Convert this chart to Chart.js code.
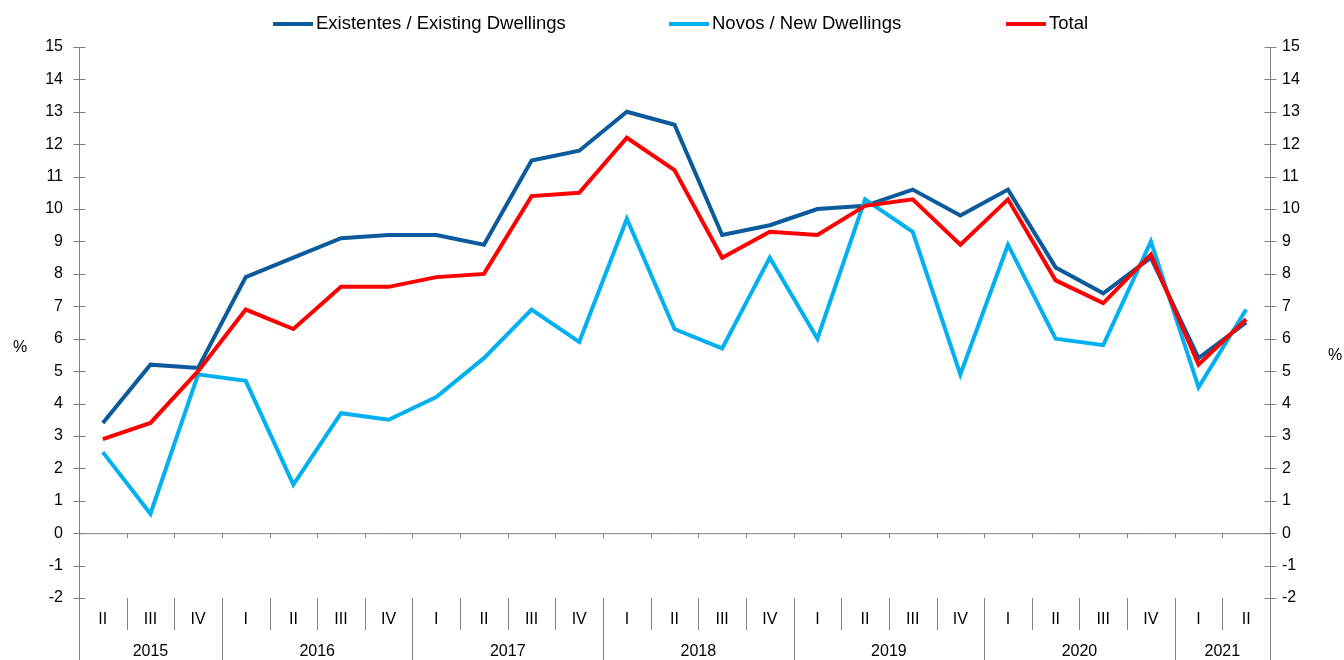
<!DOCTYPE html>
<html>
<head>
<meta charset="utf-8">
<script src="https://cdn.jsdelivr.net/npm/chart.js@4"></script>
<style>
  html, body { margin: 0; padding: 0; background: #fff; }
  #wrap { width: 1344px; height: 660px; }
</style>
</head>
<body>
<div id="wrap"><canvas id="chart" width="1344" height="660"></canvas></div>
<script>
const quarters = ['II','III','IV','I','II','III','IV','I','II','III','IV','I','II','III','IV','I','II','III','IV','I','II','III','IV','I','II'];
const years = ['2015','2015','2015','2016','2016','2016','2016','2017','2017','2017','2017','2018','2018','2018','2018',
               '2019','2019','2019','2019','2020','2020','2020','2020','2021','2021'];

const existing = [3.4, 5.2, 5.1, 7.9, 8.5, 9.1, 9.2, 9.2, 8.9, 11.5, 11.8, 13.0, 12.6, 9.2, 9.5,
                  10.0, 10.1, 10.6, 9.8, 10.6, 8.2, 7.4, 8.5, 5.4, 6.5];
const newDw = [2.5, 0.6, 4.9, 4.7, 1.5, 3.7, 3.5, 4.2, 5.4, 6.9, 5.9, 9.7, 6.3, 5.7, 8.5,
               6.0, 10.3, 9.3, 4.9, 8.9, 6.0, 5.8, 9.0, 4.5, 6.9];
const total = [2.9, 3.4, 5.0, 6.9, 6.3, 7.6, 7.6, 7.9, 8.0, 10.4, 10.5, 12.2, 11.2, 8.5, 9.3,
               9.2, 10.1, 10.3, 8.9, 10.3, 7.8, 7.1, 8.6, 5.2, 6.6];

const seriesNames = ['Existentes / Existing Dwellings', 'Novos / New Dwellings', 'Total'];
const seriesColors = ['#0A5A9C', '#00B0F0', '#FF0000'];

const FONT = "'Liberation Sans', Arial, sans-serif";
const AXIS = '#808080';

// axes, separators, year labels, % titles and the legend
const decorations = {
  id: 'decorations',
  afterDraw(chart) {
    const ctx = chart.ctx;
    const area = chart.chartArea;
    const x = chart.scales.x;
    const yl = chart.scales.y;
    const H = chart.height;
    const step = x.getPixelForValue(1) - x.getPixelForValue(0);
    const y0 = yl.getPixelForValue(0);

    ctx.save();
    ctx.strokeStyle = AXIS;
    ctx.lineWidth = 1;

    // zero line with ticks at category boundaries
    ctx.beginPath();
    ctx.moveTo(area.left, y0 + 0.5);
    ctx.lineTo(area.right, y0 + 0.5);
    for (let i = 1; i < quarters.length; i++) {
      const bx = Math.round(x.getPixelForValue(i) - step / 2) + 0.5;
      ctx.moveTo(bx, y0);
      ctx.lineTo(bx, y0 + 5);
    }
    ctx.stroke();

    // vertical axes down to the bottom of the label band
    ctx.beginPath();
    [area.left, area.right].forEach(ax => {
      const px = Math.round(ax) + 0.5;
      ctx.moveTo(px, area.top);
      ctx.lineTo(px, H);
      for (let v = -2; v <= 15; v++) {
        const py = Math.round(yl.getPixelForValue(v)) + 0.5;
        ctx.moveTo(px - 6, py);
        ctx.lineTo(px + 6, py);
      }
    });
    ctx.stroke();

    // separators in the label band
    ctx.beginPath();
    for (let i = 1; i < quarters.length; i++) {
      const bx = Math.round(x.getPixelForValue(i) - step / 2) + 0.5;
      const newYear = years[i] !== years[i - 1];
      ctx.moveTo(bx, area.bottom);
      ctx.lineTo(bx, newYear ? H : area.bottom + 32);
    }
    ctx.stroke();

    // year labels
    ctx.fillStyle = '#000';
    ctx.font = '16px ' + FONT;
    ctx.textAlign = 'center';
    ctx.textBaseline = 'middle';
    let start = 0;
    for (let i = 1; i <= years.length; i++) {
      if (i === years.length || years[i] !== years[start]) {
        const cx = (x.getPixelForValue(start) + x.getPixelForValue(i - 1)) / 2;
        ctx.fillText(years[start], cx, 652);
        start = i;
      }
    }

    // % titles
    ctx.fillText('%', 20, 348);
    ctx.fillText('%', 1335, 356);

    // legend
    const legendX = [273, 669, 1006];
    ctx.textAlign = 'left';
    ctx.font = '18.5px ' + FONT;
    seriesNames.forEach((name, i) => {
      ctx.strokeStyle = seriesColors[i];
      ctx.lineWidth = 4;
      ctx.beginPath();
      ctx.moveTo(legendX[i], 24);
      ctx.lineTo(legendX[i] + 40, 24);
      ctx.stroke();
      ctx.fillText(name, legendX[i] + 43, 24);
    });
    ctx.restore();
  }
};

const tickFont = { family: FONT, size: 16 };

new Chart(document.getElementById('chart'), {
  type: 'line',
  data: {
    labels: quarters,
    datasets: [
      { label: seriesNames[0], data: existing, borderColor: seriesColors[0], order: 3 },
      { label: seriesNames[1], data: newDw, borderColor: seriesColors[1], order: 2 },
      { label: seriesNames[2], data: total, borderColor: seriesColors[2], order: 1 }
    ].map(d => Object.assign(d, { borderWidth: 4, pointRadius: 0, tension: 0, fill: false }))
  },
  options: {
    responsive: false,
    animation: false,
    layout: { padding: { top: 47, left: 0, right: 0, bottom: 0 } },
    plugins: { legend: { display: false }, tooltip: { enabled: false } },
    scales: {
      x: {
        offset: true,
        grid: { display: false, drawTicks: false, tickLength: 0 },
        border: { display: false },
        ticks: { color: '#000', font: tickFont, padding: 12, maxRotation: 0, autoSkip: false },
        afterFit(scale) { scale.height = 62; }
      },
      y: {
        position: 'left',
        min: -2, max: 15,
        grid: { display: false, drawTicks: false, tickLength: 0 },
        border: { display: false },
        ticks: { stepSize: 1, color: '#000', font: tickFont, padding: 16 },
        afterFit(scale) { scale.width = 79; }
      },
      y2: {
        position: 'right',
        min: -2, max: 15,
        grid: { display: false, drawTicks: false, tickLength: 0 },
        border: { display: false },
        ticks: { stepSize: 1, color: '#000', font: tickFont, padding: 12 },
        afterFit(scale) { scale.width = 74; }
      }
    }
  },
  plugins: [decorations]
});
</script>
</body>
</html>
